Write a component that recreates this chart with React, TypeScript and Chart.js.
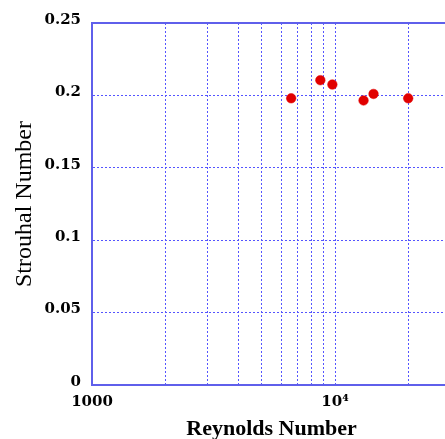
import React, { useEffect, useRef } from "react";
import { Chart, registerables } from "chart.js";

Chart.register(...registerables);

const reynolds = [6600, 8700, 9750, 13100, 14400, 20000];
const strouhal = [0.198, 0.2105, 0.2075, 0.1965, 0.201, 0.198];

const xTickValues = [1000, 2000, 3000, 4000, 5000, 6000, 7000, 8000, 9000, 10000, 20000, 30000];
const xTickLabels: Record<number, string> = { 1000: "1000", 10000: "10\u2074" };
const yTickValues = [0, 0.05, 0.1, 0.15, 0.2, 0.25];
const yTickLabels = ["0", "0.05", "0.1", "0.15", "0.2", "0.25"];

const AXIS_COLOR = "rgb(95,95,235)";
const GRID_COLOR = "rgb(85,85,255)";

const framePlugin = {
  id: "frameTop",
  afterDraw(chart: any) {
    const { ctx, chartArea } = chart;
    ctx.save();
    ctx.strokeStyle = AXIS_COLOR;
    ctx.lineWidth = 2;
    ctx.beginPath();
    ctx.moveTo(chartArea.left, chartArea.top);
    ctx.lineTo(chartArea.right, chartArea.top);
    ctx.lineTo(chartArea.right, chartArea.bottom);
    ctx.stroke();
    ctx.restore();
  },
};

export default function App() {
  const ref = useRef<HTMLCanvasElement>(null);
  useEffect(() => {
    if (!ref.current) return;
    const chart = new Chart(ref.current, {
      type: "scatter",
      data: {
        datasets: [
          {
            data: reynolds.map((x, i) => ({ x, y: strouhal[i] })),
            backgroundColor: "rgb(225,0,0)",
            borderColor: "rgb(225,0,0)",
            pointRadius: 4.8,
            pointBorderWidth: 0.5,
          },
        ],
      },
      options: {
        animation: false,
        responsive: false,
        layout: { padding: { top: 23, right: 19, left: 0, bottom: 0 } },
        plugins: { legend: { display: false }, tooltip: { enabled: false } },
        scales: {
          x: {
            type: "logarithmic",
            min: 1000,
            max: 30000,
            afterBuildTicks: (s: any) => {
              s.ticks = xTickValues.map((v) => ({ value: v }));
            },
            afterFit: (s: any) => {
              s.height = 65;
            },
            ticks: {
              autoSkip: false,
              maxRotation: 0,
              padding: 8,
              color: "#000",
              font: { family: "DejaVu Serif", weight: "bold", size: 15 },
              callback: (v: any) => xTickLabels[Number(v)] ?? "",
            },
            grid: { color: GRID_COLOR, lineWidth: 1, drawTicks: false },
            border: { color: AXIS_COLOR, width: 2, dash: [2, 2] },
            title: {
              display: true,
              text: "Reynolds Number",
              color: "#000",
              font: { family: "Liberation Serif", weight: "bold", size: 22 },
              padding: { top: 0, bottom: 7 },
            },
          },
          y: {
            type: "linear",
            min: 0,
            max: 0.25,
            afterBuildTicks: (s: any) => {
              s.ticks = yTickValues.map((v) => ({ value: v }));
            },
            afterFit: (s: any) => {
              s.width = 92;
            },
            ticks: {
              padding: 11,
              labelOffset: -3,
              color: "#000",
              font: { family: "DejaVu Serif", weight: "bold", size: 15 },
              callback: (_v: any, i: number) => yTickLabels[i],
            },
            grid: { color: GRID_COLOR, lineWidth: 1, drawTicks: false },
            border: { color: AXIS_COLOR, width: 2, dash: [2, 2] },
            title: {
              display: true,
              text: "Strouhal Number",
              color: "#000",
              font: { family: "Liberation Serif", size: 24 },
              padding: { top: 10, bottom: 0 },
            },
          },
        },
      },
      plugins: [framePlugin],
    });
    return () => chart.destroy();
  }, []);
  return (
    <div
      style={{
        position: "absolute",
        left: 0,
        top: 0,
        width: 445,
        height: 439,
        overflow: "hidden",
        background: "#fff",
      }}
    >
      <canvas ref={ref} width={470} height={450} style={{ width: 470, height: 450, display: "block" }} />
    </div>
  );
}
